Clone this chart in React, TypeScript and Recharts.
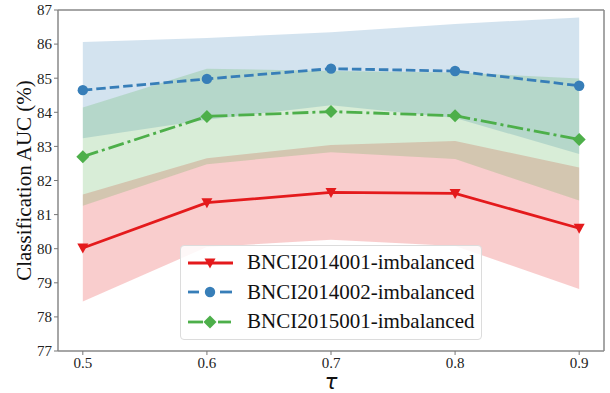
import React from 'react';
import { ComposedChart, Area, Line, XAxis, YAxis, ReferenceLine, Legend } from 'recharts';

const taus = [0.5, 0.6, 0.7, 0.8, 0.9];
const xTicks = [0.5, 0.6, 0.7, 0.8, 0.9];
const yTicks = [77, 78, 79, 80, 81, 82, 83, 84, 85, 86, 87];

const seriesNames = ['BNCI2014001-imbalanced', 'BNCI2014002-imbalanced', 'BNCI2015001-imbalanced'];

const mean2014001 = [80.02, 81.35, 81.65, 81.62, 80.6];
const std2014001 = [1.57, 1.3, 1.39, 1.54, 1.78];
const mean2014002 = [84.65, 84.98, 85.28, 85.21, 84.78];
const std2014002 = [1.41, 1.2, 1.07, 1.38, 2.0];
const mean2015001 = [82.7, 83.88, 84.02, 83.9, 83.2];
const std2015001 = [1.44, 1.4, 1.19, 1.27, 1.79];

const RED = '#e41a1c';
const BLUE = '#377eb8';
const GREEN = '#4daf4a';

const data = taus.map((t, i) => ({
  tau: t,
  m1: mean2014001[i],
  b1: [mean2014001[i] - std2014001[i], mean2014001[i] + std2014001[i]],
  m2: mean2014002[i],
  b2: [mean2014002[i] - std2014002[i], mean2014002[i] + std2014002[i]],
  m3: mean2015001[i],
  b3: [mean2015001[i] - std2015001[i], mean2015001[i] + std2015001[i]],
}));

const triPath = (cx: number, cy: number) => `M${cx - 5.5},${cy - 4.5}L${cx + 5.5},${cy - 4.5}L${cx},${cy + 5.5}Z`;
const diaPath = (cx: number, cy: number) => `M${cx},${cy - 6.5}L${cx + 6.5},${cy}L${cx},${cy + 6.5}L${cx - 6.5},${cy}Z`;

const TriDot = (p: any) => (p.cx == null ? <g /> : <path key={p.key} d={triPath(p.cx, p.cy)} fill={RED} />);
const CircDot = (p: any) => (p.cx == null ? <g /> : <circle key={p.key} cx={p.cx} cy={p.cy} r={5.2} fill={BLUE} />);
const DiaDot = (p: any) => (p.cx == null ? <g /> : <path key={p.key} d={diaPath(p.cx, p.cy)} fill={GREEN} />);

const serif = '"Liberation Serif", "Times New Roman", serif';

const LegendBox = () => {
  const rowStyle: React.CSSProperties = { display: 'flex', alignItems: 'center', height: 29.5 };
  const textStyle: React.CSSProperties = { fontFamily: serif, fontSize: 21, color: '#111', lineHeight: '21px', whiteSpace: 'nowrap' };
  return (
    <div
      style={{
        width: 302,
        height: 95,
        boxSizing: 'border-box',
        border: '1px solid #dcdcdc',
        borderRadius: 4,
        background: 'rgba(255,255,255,0.85)',
        paddingTop: 2,
      }}
    >
      <div style={rowStyle}>
        <svg width={66} height={20}>
          <line x1={7} y1={10} x2={52} y2={10} stroke={RED} strokeWidth={2.8} />
          <path d={triPath(29, 10)} fill={RED} />
        </svg>
        <span style={textStyle}>{seriesNames[0]}</span>
      </div>
      <div style={rowStyle}>
        <svg width={66} height={20}>
          <line x1={7} y1={10} x2={18} y2={10} stroke={BLUE} strokeWidth={2.8} />
          <line x1={39} y1={10} x2={51} y2={10} stroke={BLUE} strokeWidth={2.8} />
          <circle cx={29} cy={10} r={5.2} fill={BLUE} />
        </svg>
        <span style={textStyle}>{seriesNames[1]}</span>
      </div>
      <div style={rowStyle}>
        <svg width={66} height={20}>
          <line x1={7} y1={10} x2={22} y2={10} stroke={GREEN} strokeWidth={2.8} />
          <line x1={37} y1={10} x2={50} y2={10} stroke={GREEN} strokeWidth={2.8} />
          <path d={diaPath(29, 10)} fill={GREEN} />
        </svg>
        <span style={textStyle}>{seriesNames[2]}</span>
      </div>
    </div>
  );
};

const tickStyle = { fontFamily: serif, fontSize: 15, fill: '#222' };

export default function App() {
  return (
    <div style={{ position: 'absolute', left: 0, top: 0, width: 610, height: 393, background: '#fff' }}>
      <ComposedChart width={610} height={393} data={data} margin={{ top: 10, right: 6, bottom: 12, left: 8 }}>
        <XAxis
          dataKey="tau"
          type="number"
          domain={[0.48, 0.92]}
          ticks={xTicks}
          allowDataOverflow
          tickFormatter={(v: number) => v.toFixed(1)}
          tick={tickStyle}
          tickSize={4}
          tickMargin={2}
          height={30}
          stroke="#888"
          strokeWidth={1.5}
          tickLine={{ stroke: '#777', strokeWidth: 1 }}
          label={{
            value: 'τ',
            position: 'insideBottom',
            offset: -8,
            style: { fontFamily: '"DejaVu Sans", sans-serif', fontStyle: 'italic', fontSize: 21, fill: '#111' },
          }}
        />
        <YAxis
          type="number"
          domain={[77, 87]}
          ticks={yTicks}
          allowDataOverflow
          tick={tickStyle}
          tickSize={4}
          tickMargin={2}
          width={50}
          stroke="#888"
          strokeWidth={1.5}
          tickLine={{ stroke: '#777', strokeWidth: 1 }}
          label={{
            value: 'Classification AUC (%)',
            angle: -90,
            position: 'center',
            dx: -9,
            style: { fontFamily: serif, fontSize: 21, fill: '#111', textAnchor: 'middle' },
          }}
        />
        <ReferenceLine y={87} stroke="#888" strokeWidth={1.5} ifOverflow="extendDomain" />
        <ReferenceLine x={0.92} stroke="#888" strokeWidth={1.5} ifOverflow="extendDomain" />
        <Area type="linear" dataKey="b1" stroke="none" fill={RED} fillOpacity={0.22} isAnimationActive={false} legendType="none" />
        <Area type="linear" dataKey="b2" stroke="none" fill={BLUE} fillOpacity={0.22} isAnimationActive={false} legendType="none" />
        <Area type="linear" dataKey="b3" stroke="none" fill={GREEN} fillOpacity={0.22} isAnimationActive={false} legendType="none" />
        <Line type="linear" dataKey="m1" stroke={RED} strokeWidth={2.8} dot={TriDot} activeDot={false} isAnimationActive={false} />
        <Line type="linear" dataKey="m2" stroke={BLUE} strokeWidth={2.8} strokeDasharray="9.5 4" dot={CircDot} activeDot={false} isAnimationActive={false} />
        <Line type="linear" dataKey="m3" stroke={GREEN} strokeWidth={2.8} strokeDasharray="16 4 3 4" dot={DiaDot} activeDot={false} isAnimationActive={false} />
        <Legend
          layout="horizontal"
          verticalAlign="middle"
          align="center"
          content={() => <LegendBox />}
          wrapperStyle={{ position: 'absolute', left: 180, top: 245, width: 302, height: 95 }}
        />
      </ComposedChart>
    </div>
  );
}
